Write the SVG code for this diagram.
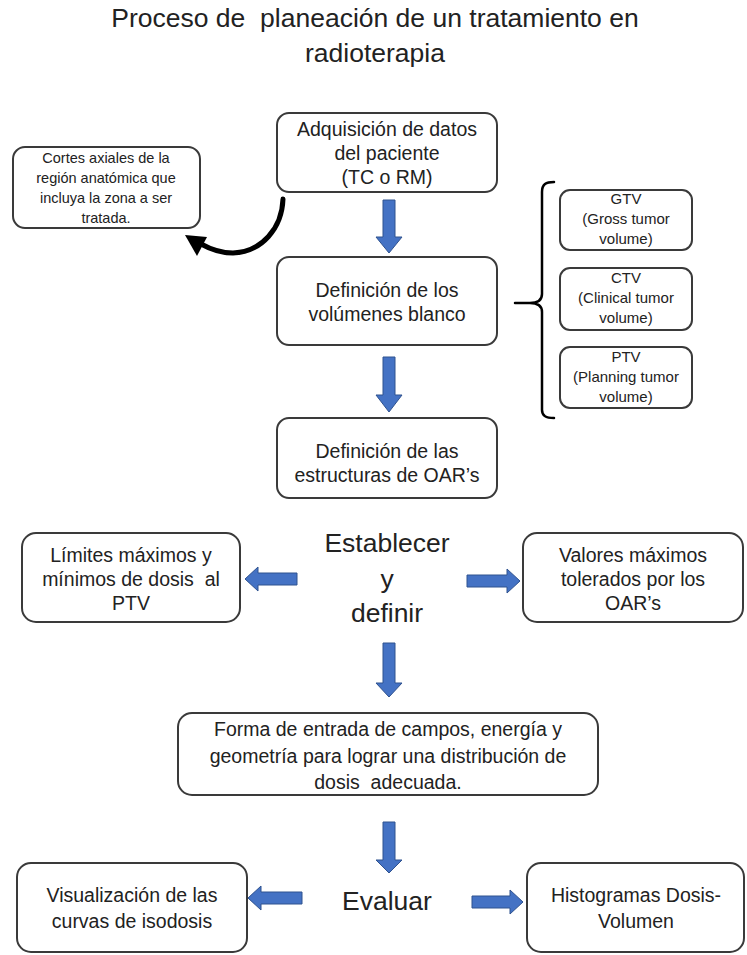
<svg xmlns="http://www.w3.org/2000/svg" width="747" height="955" viewBox="0 0 747 955">
<style>
.box{fill:#fff;stroke:#3a3a3a;stroke-width:2}
.t{font-family:"Liberation Sans",Arial,sans-serif;fill:#222;text-anchor:middle;font-size:19.5px}
.s{font-size:14.5px}
.m{font-size:15px}
.big{font-size:26.5px}
.pre{white-space:pre}
.arr{fill:#4472C4;stroke:#2F528F;stroke-width:1}
.blk{fill:none;stroke:#000;stroke-linecap:round}
</style>
<rect width="747" height="955" fill="#fff"/>
<g id="title">
<text class="t big pre" x="375" y="27" font-size="26">Proceso de  planeación de un tratamiento en</text>
<text class="t big" x="375" y="62">radioterapia</text>
</g>
<g id="connectors">
<polygon class="arr" points="383,200 395,200 395,237 402,237 389,253 376,237 383,237"/>
<polygon class="arr" points="383,357 395,357 395,395 402,395 389,412 376,395 383,395"/>
<polygon class="arr" points="383,643 395,643 395,683 402,683 389,697 376,683 383,683"/>
<polygon class="arr" points="383,822 395,822 395,860 402,860 389,873 376,860 383,860"/>
<polygon class="arr" points="297,573 297,585 258,585 258,591 245,579 258,567 258,573"/>
<polygon class="arr" points="467,575 467,587 507,587 507,593 520,581 507,569 507,575"/>
<polygon class="arr" points="302,892 302,904 261,904 261,910 248,898 261,886 261,892"/>
<polygon class="arr" points="472,896 472,908 510,908 510,914 523,902 510,890 510,896"/>
<path class="blk" stroke-width="5" d="M283,199 C282,228 262,252 233,253 C220,253 210,249 201,244"/>
<polygon fill="#000" points="185,235 207,237 197,256"/>
<path class="blk" stroke-width="2.5" d="M554,182 C546,182 542,184 542,192 L542,294 C542,300 538,303 530,303 L515,303 M530,303 C538,303 542,306 542,312 L542,410 C542,416 546,418 554,418"/>
</g>
<g id="n-adquisicion">
<rect class="box" x="277" y="113" width="220" height="79" rx="12"/>
<text class="t" x="387" y="136">Adquisición de datos</text>
<text class="t" x="387" y="160">del paciente</text>
<text class="t" x="387" y="184">(TC o RM)</text>
</g>
<g id="n-cortes">
<rect class="box" x="13" y="147" width="187" height="81" rx="12"/>
<text class="t s" x="106" y="163">Cortes axiales de la</text>
<text class="t s" x="106" y="183">región anatómica que</text>
<text class="t s" x="106" y="203">incluya la zona a ser</text>
<text class="t s" x="106" y="223">tratada.</text>
</g>
<g id="n-definicion-volumenes">
<rect class="box" x="277" y="257" width="220" height="88" rx="12"/>
<text class="t" x="387" y="297">Definición de los</text>
<text class="t" x="387" y="321">volúmenes blanco</text>
</g>
<g id="n-gtv">
<rect class="box" x="560" y="190" width="132" height="60" rx="10"/>
<text class="t m" x="626" y="204">GTV</text>
<text class="t m" x="626" y="224">(Gross tumor</text>
<text class="t m" x="626" y="244">volume)</text>
</g>
<g id="n-ctv">
<rect class="box" x="560" y="268" width="132" height="62" rx="10"/>
<text class="t m" x="626" y="283">CTV</text>
<text class="t m" x="626" y="303">(Clinical tumor</text>
<text class="t m" x="626" y="323">volume)</text>
</g>
<g id="n-ptv">
<rect class="box" x="560" y="347" width="132" height="61" rx="10"/>
<text class="t m" x="626" y="362">PTV</text>
<text class="t m" x="626" y="382">(Planning tumor</text>
<text class="t m" x="626" y="402">volume)</text>
</g>
<g id="n-oar">
<rect class="box" x="277" y="418" width="220" height="80" rx="12"/>
<text class="t" x="387" y="458">Definición de las</text>
<text class="t" x="387" y="482">estructuras de OAR’s</text>
</g>
<g id="n-establecer">
<text class="t big" x="387" y="552">Establecer</text>
<text class="t big" x="387" y="588">y</text>
<text class="t big" x="387" y="622">definir</text>
</g>
<g id="n-limites">
<rect class="box" x="22" y="533" width="218" height="89" rx="14"/>
<text class="t" x="131" y="562">Límites máximos y</text>
<text class="t pre" x="131" y="586">mínimos de dosis  al</text>
<text class="t" x="131" y="610">PTV</text>
</g>
<g id="n-valores">
<rect class="box" x="523" y="533" width="220" height="89" rx="14"/>
<text class="t" x="633" y="562">Valores máximos</text>
<text class="t" x="633" y="586">tolerados por los</text>
<text class="t" x="633" y="610">OAR’s</text>
</g>
<g id="n-forma">
<rect class="box" x="178" y="713" width="420" height="82" rx="14"/>
<text class="t" x="388" y="736">Forma de entrada de campos, energía y</text>
<text class="t" x="388" y="763">geometría para lograr una distribución de</text>
<text class="t pre" x="388" y="789">dosis  adecuada.</text>
</g>
<g id="n-evaluar">
<text class="t big" x="387" y="910">Evaluar</text>
</g>
<g id="n-visualizacion">
<rect class="box" x="17" y="863" width="230" height="89" rx="14"/>
<text class="t" x="132" y="902">Visualización de las</text>
<text class="t" x="132" y="928">curvas de isodosis</text>
</g>
<g id="n-histogramas">
<rect class="box" x="527" y="863" width="217" height="89" rx="14"/>
<text class="t" x="636" y="902">Histogramas Dosis-</text>
<text class="t" x="636" y="928">Volumen</text>
</g>
</svg>
